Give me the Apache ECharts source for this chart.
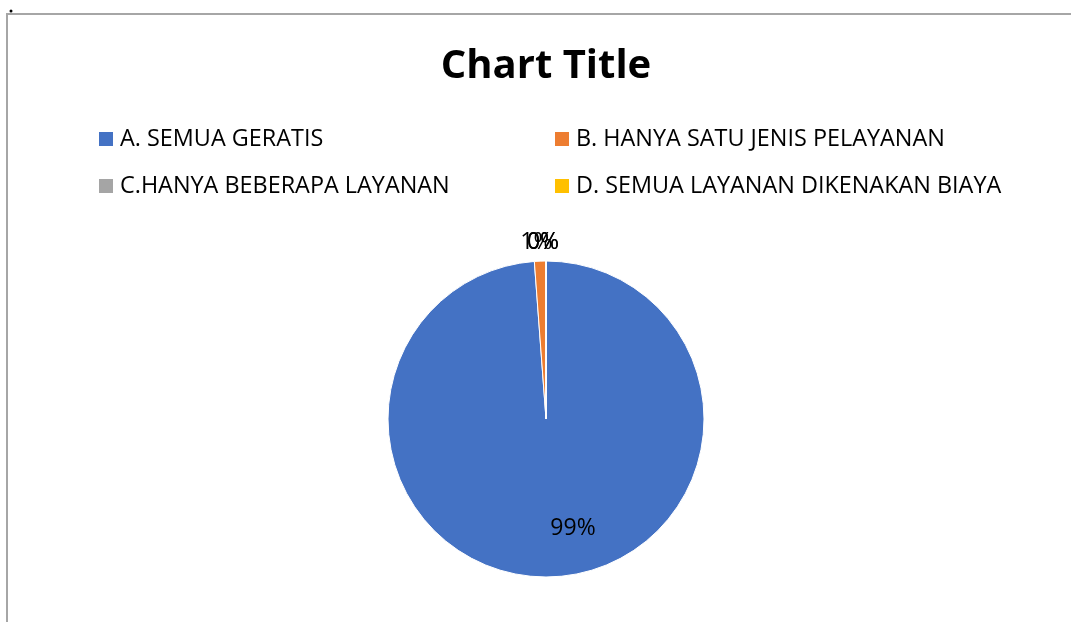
<!DOCTYPE html>
<html>
<head>
<meta charset="utf-8">
<script src="https://cdn.jsdelivr.net/npm/echarts@6/dist/echarts.min.js"></script>
<style>
  html, body { margin: 0; padding: 0; background: #fff; }
  #pieChart { width: 1071px; height: 622px; }
</style>
</head>
<body>
<div id="pieChart"></div>
<script>
var categories = [
  "A. SEMUA GERATIS",
  "B. HANYA SATU JENIS PELAYANAN",
  "C.HANYA BEBERAPA LAYANAN",
  "D. SEMUA LAYANAN DIKENAKAN BIAYA"
];
var values = [84, 1, 0, 0]; // jumlah jawaban
var colors = ["#4472c4", "#ed7d31", "#a5a5a5", "#ffc000"];

var fontName = "Open Sans";
var myChart = echarts.init(document.getElementById("pieChart"));

var pieData = [];
for (var i = 0; i < categories.length; i++) {
  var item = { name: categories[i], value: values[i] };
  // label besar di dalam irisan biru
  if (i === 0) {
    item.label = { position: "inside" };
  }
  pieData.push(item);
}

var legendText = {
  color: "#000",
  fontFamily: fontName,
  fontSize: 23.4,
  lineHeight: 24,
  padding: [0, 0, 0, 2]
};

var option = {
  backgroundColor: "#fff",
  color: colors,
  animation: false,
  title: {
    text: "Chart Title",
    left: 546,
    textAlign: "center",
    top: 47,
    padding: 0,
    textStyle: {
      color: "#000",
      fontFamily: fontName,
      fontWeight: "bold",
      fontSize: 40
    }
  },
  legend: [
    {
      orient: "vertical",
      left: 99,
      top: 127,
      padding: 0,
      itemWidth: 14,
      itemHeight: 14,
      itemGap: 23,
      icon: "rect",
      itemStyle: { borderWidth: 0 },
      selectedMode: false,
      textStyle: legendText,
      data: [categories[0], categories[2]]
    },
    {
      orient: "vertical",
      left: 555,
      top: 127,
      padding: 0,
      itemWidth: 14,
      itemHeight: 14,
      itemGap: 23,
      icon: "rect",
      itemStyle: { borderWidth: 0 },
      selectedMode: false,
      textStyle: legendText,
      data: [categories[1], categories[3]]
    }
  ],
  graphic: [
    {
      type: "polyline",
      shape: { points: [[7, 622], [7, 14], [1071, 14]] },
      style: { stroke: "#a6a6a6", lineWidth: 2, fill: null }
    },
    {
      type: "circle",
      shape: { cx: 11, cy: 11, r: 1.5 },
      style: { fill: "#000" }
    }
  ],
  series: [
    {
      type: "pie",
      center: [546, 419],
      radius: 158,
      startAngle: 90,
      clockwise: true,
      percentPrecision: 0,
      avoidLabelOverlap: false,
      itemStyle: { borderColor: "#fff", borderWidth: 1 },
      emphasis: { disabled: true },
      label: {
        show: true,
        position: "outside",
        formatter: "{d}%",
        color: "#000",
        fontFamily: fontName,
        fontSize: 23
      },
      labelLine: { show: false, length: 20, length2: 0 },
      labelLayout: function (params) {
        if (params.dataIndex === 0) {
          return { dx: 24, dy: 28 };
        }
        return { align: "center", dx: 2, dy: 1 };
      },
      data: pieData
    }
  ]
};

myChart.setOption(option);
</script>
</body>
</html>
